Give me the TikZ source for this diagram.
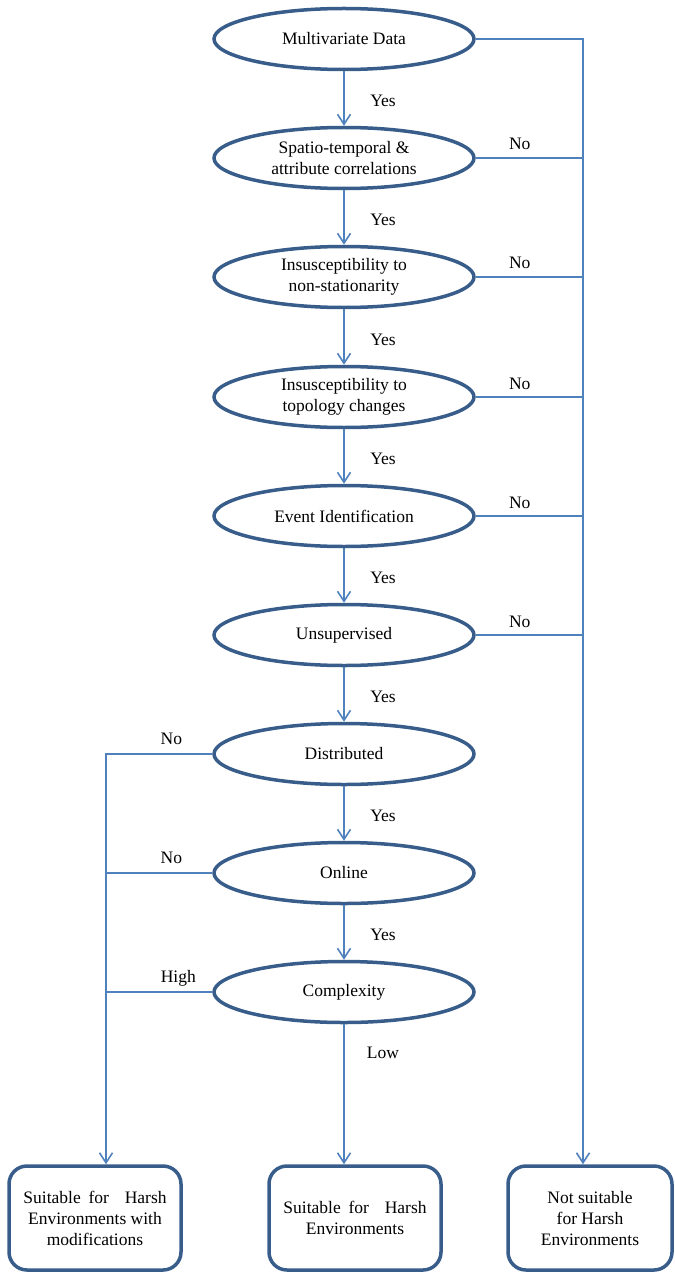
\documentclass[tikz,border=0pt]{standalone}
\usepackage{fontspec}
\setmainfont{Liberation Serif}
\usetikzlibrary{arrows.meta,calc,positioning,shapes.geometric}
\definecolor{ovalblue}{RGB}{56,93,138}
\definecolor{lineblue}{RGB}{79,129,189}
\tikzset{%
	decision/.style = {draw=ovalblue, line width=3.5pt, ellipse, minimum width=260pt, minimum height=61pt, inner sep=0pt, align=center},
	outcome/.style  = {draw=ovalblue, line width=3.5pt, rectangle, rounded corners=18pt, minimum height=104pt, align=center},
	link/.style     = {draw=lineblue, line width=1.6pt},
	arrow/.style    = {link, -{Straight Barb[length=10pt,width=13pt]}},
	lbl/.style      = {anchor=base, inner sep=0pt},
	yes/.style      = {lbl, xshift=39pt, yshift=-8pt},
}
\begin{document}
\begin{tikzpicture}[x=1pt,y=1pt,font=\fontsize{17.5}{21}\selectfont]
	\useasboundingbox (0,0) rectangle (674,-1273);
	
	% decisions
	\node[decision] (mvd) at (344,-39) {Multivariate Data};
	\node[decision] (stc) at (344,-158) {Spatio-temporal \&\\attribute correlations};
	\node[decision] (nst) at (344,-277) {Insusceptibility to\\non-stationarity};
	\node[decision] (tpc) at (344,-397) {Insusceptibility to\\topology changes};
	\node[decision] (evt) at (344,-516) {Event Identification};
	\node[decision] (uns) at (344,-635) {Unsupervised};
	\node[decision] (dst) at (344,-754) {Distributed};
	\node[decision] (onl) at (344,-873) {Online};
	\node[decision] (cpx) at (344,-992) {Complexity};
	
	% outcomes
	\node[outcome, minimum width=172pt] (modif) at (95,-1218) {Suitable\hspace{0.45em}for\hspace{0.9em}Harsh\\Environments with\\modifications};
	\node[outcome, minimum width=172pt] (harsh) at (355,-1218) {Suitable\hspace{0.45em}for\hspace{0.9em}Harsh\\Environments};
	\node[outcome, minimum width=164pt] (nothar) at (590,-1218) {Not suitable\\for Harsh\\Environments};
	
	\coordinate (rail) at (583,-39);   % right collector
	\coordinate (lrail) at (106,-754); % left collector
	
	% yes chain
	\draw[arrow] (mvd) -- node[yes]{Yes} (stc);
	\draw[arrow] (stc) -- node[yes]{Yes} (nst);
	\draw[arrow] (nst) -- node[yes]{Yes} (tpc);
	\draw[arrow] (tpc) -- node[yes]{Yes} (evt);
	\draw[arrow] (evt) -- node[yes]{Yes} (uns);
	\draw[arrow] (uns) -- node[yes]{Yes} (dst);
	\draw[arrow] (dst) -- node[yes]{Yes} (onl);
	\draw[arrow] (onl) -- node[yes]{Yes} (cpx);
	\draw[arrow] (cpx) -- node[lbl,pos=0.245,xshift=39pt]{Low} (cpx |- harsh.north);
	
	% no branches, right
	\draw[arrow] (mvd.east) -- (rail) -- (rail |- nothar.north);
	\draw[link] (stc.east) -- node[lbl,pos=0.41,yshift=8pt]{No} (stc.east -| rail);
	\draw[link] (nst.east) -- node[lbl,pos=0.41,yshift=8pt]{No} (nst.east -| rail);
	\draw[link] (tpc.east) -- node[lbl,pos=0.41,yshift=8pt]{No} (tpc.east -| rail);
	\draw[link] (evt.east) -- node[lbl,pos=0.41,yshift=8pt]{No} (evt.east -| rail);
	\draw[link] (uns.east) -- node[lbl,pos=0.41,yshift=8pt]{No} (uns.east -| rail);
	
	% no branches, left
	\draw[arrow] (dst.west) -- node[lbl,pos=0.385,yshift=10pt]{No} (lrail) -- (lrail |- modif.north);
	\draw[link] (onl.west) -- node[lbl,pos=0.385,yshift=10pt]{No} (onl.west -| lrail);
	\draw[link] (cpx.west) -- node[lbl,pos=0.32,yshift=10pt]{High} (cpx.west -| lrail);
\end{tikzpicture}
\end{document}
